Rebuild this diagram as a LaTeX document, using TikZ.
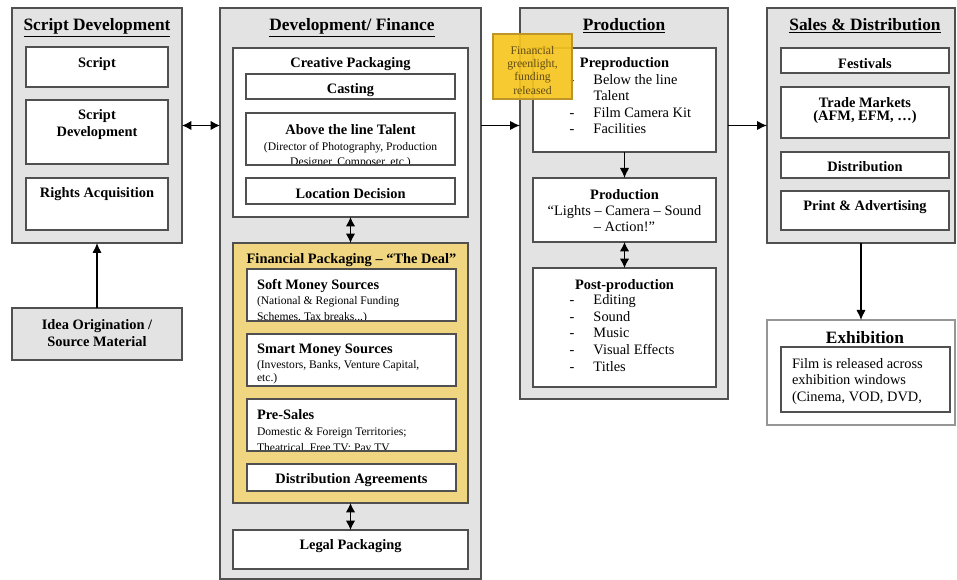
\documentclass[tikz,border=0pt]{standalone}
\usepackage{fontspec}
\setmainfont{Liberation Serif}
\usetikzlibrary{arrows.meta}
\definecolor{outerfill}{RGB}{227,227,227}
\definecolor{edge}{RGB}{80,80,80}
\definecolor{dealfill}{RGB}{240,214,128}
\definecolor{notefill}{RGB}{247,197,32}
\definecolor{noteedge}{RGB}{190,150,40}
\definecolor{notetext}{RGB}{95,75,20}
\definecolor{exedge}{RGB}{150,150,150}
\newcommand\fTitle{\fontsize{13}{15}\selectfont\bfseries}
\newcommand\fHead{\fontsize{10.8}{12.7}\selectfont\bfseries}
\newcommand\fBody{\fontsize{10.8}{12.4}\selectfont}
\newcommand\fSmall{\fontsize{8.7}{9.8}\selectfont}
\newcommand\fNote{\fontsize{8.8}{10}\selectfont}
\newcommand\rbox[6]{\node[#2, anchor=north west, minimum width={(#5-#3)*0.75pt}, minimum height={(#6-#4)*0.75pt}] (#1) at (#3,#4) {};}
\tikzset{
  outerbox/.style={draw=edge, line width=1.1pt, fill=outerfill, inner sep=0pt, outer sep=0pt},
  innerbox/.style={draw=edge, line width=1.1pt, fill=white, inner sep=0pt, outer sep=0pt},
  dealbox/.style={draw=edge, line width=1.1pt, fill=dealfill, inner sep=0pt, outer sep=0pt},
  exbox/.style={draw=exedge, line width=1pt, fill=white, inner sep=0pt, outer sep=0pt},
  notebox/.style={draw=noteedge, line width=0.9pt, fill=notefill, fill opacity=0.92, inner sep=0pt, outer sep=0pt},
  txt/.style={inner sep=0pt, outer sep=0pt, align=center, yshift=-1.5pt},
  ltxt/.style={inner sep=0pt, outer sep=0pt, align=left, anchor=west, yshift=-1.5pt},
  ttl/.style={inner sep=0pt, outer sep=0pt, anchor=base, font=\fTitle},
  lst/.style={inner sep=0pt, outer sep=0pt, anchor=west, yshift=-3pt},
  arr/.style={draw=black, line width=0.9pt, -{Latex[length=7.5pt,width=7pt]}},
  darr/.style={draw=black, line width=0.9pt, {Latex[length=7pt,width=7pt]}-{Latex[length=7pt,width=7pt]}},
}
\begin{document}
\begin{tikzpicture}[x=0.75pt,y=-0.75pt]
\useasboundingbox (0,0) rectangle (957,580);
% outer columns
\rbox{sd}{outerbox}{12}{8}{182}{243}
\rbox{df}{outerbox}{220}{8}{481}{579}
\rbox{pr}{outerbox}{520}{8}{728}{399}
\rbox{sa}{outerbox}{767}{8}{955}{243}
\rbox{idea}{outerbox}{12}{308}{182}{360}
\rbox{ex}{exbox}{767}{320}{955}{425}
% titles
\node[ttl] (sdT) at (97,30.5) {\underline{Script Development}};
\node[ttl] (dfT) at (352,30.5) {\underline{Development/ Finance}};
\node[ttl] (prT) at (624,30.5) {\underline{Production}};
\node[ttl] (saT) at (865,30.5) {\underline{Sales \& Distribution}};
% script development
\rbox{scr}{innerbox}{26}{47}{168}{87}
\rbox{scd}{innerbox}{26}{100}{168}{164}
\rbox{rig}{innerbox}{26}{178}{168}{230}
\node[txt, font=\fHead] (scrT) at (97,62) {Script};
\node[txt, font=\fHead] (scdT) at (97,122.5) {Script\\Development};
\node[txt, font=\fHead] (rigT) at (97,192) {Rights Acquisition};
\node[txt, font=\fHead] (ideaT) at (97,331) {Idea Origination /\\Source Material};
% development / finance
\rbox{cp}{innerbox}{233}{48}{468}{217}
\node[txt, font=\fHead] (cpT) at (350.5,62) {Creative Packaging};
\rbox{cas}{innerbox}{246}{74}{455}{99}
\node[txt, font=\fHead] (casT) at (350.5,88) {Casting};
\rbox{atl}{innerbox}{246}{113}{455}{165}
\begin{scope}
\clip (246,113) rectangle (455,164);
\node[txt, font=\fHead] (atlT) at (350.5,128) {Above the line Talent};
\node[txt, font={\fontsize{8.7}{11.25}\selectfont}] (atlS) at (350.5,153.5) {(Director of Photography, Production\\Designer, Composer, etc.)};
\end{scope}
\draw[edge, line width=1.1pt] (atl.north west) rectangle (atl.south east);
\rbox{loc}{innerbox}{246}{178}{455}{204}
\node[txt, font=\fHead] (locT) at (350.5,192) {Location Decision};
\rbox{fp}{dealbox}{233}{243}{468}{503}
\node[txt, font=\fHead] (fpT) at (351.5,258) {Financial Packaging – “The Deal”};
\rbox{soft}{innerbox}{247}{269}{456}{321}
\rbox{smart}{innerbox}{247}{334}{456}{386}
\rbox{pres}{innerbox}{247}{399}{456}{451}
\begin{scope}
\clip (247,269) rectangle (456,320);
\node[ltxt, font=\fHead] (softT) at (257,284) {Soft Money Sources};
\node[ltxt, font={\fontsize{8.7}{12}\selectfont}] (softS) at (257,308) {(National \& Regional Funding\\Schemes, Tax breaks...)};
\end{scope}
\draw[edge, line width=1.1pt] (soft.north west) rectangle (soft.south east);
\node[ltxt, font=\fHead] (smartT) at (257,348) {Smart Money Sources};
\node[ltxt, font=\fSmall] (smartS) at (257,370.5) {(Investors, Banks, Venture Capital,\\etc.)};
\begin{scope}
\clip (247,399) rectangle (456,450);
\node[ltxt, font=\fHead] (presT) at (257,413) {Pre-Sales};
\node[ltxt, font={\fontsize{8.7}{12}\selectfont}] (presS) at (257,439) {Domestic \& Foreign Territories;\\Theatrical, Free TV; Pay TV};
\end{scope}
\draw[edge, line width=1.1pt] (pres.north west) rectangle (pres.south east);
\rbox{dis}{innerbox}{247}{464}{456}{491}
\node[txt, font=\fHead] (disT) at (351.5,478) {Distribution Agreements};
\rbox{leg}{innerbox}{233}{530}{468}{569}
\node[txt, font=\fHead] (legT) at (350.5,544) {Legal Packaging};
% production
\rbox{pre}{innerbox}{533}{48}{716}{152}
\node[txt, font=\fHead] (preT) at (624.5,62) {Preproduction};
\node[lst, font=\fBody] (preL) at (569.5,101.5) {\begin{tabular}{@{}p{4pt}@{\hspace{14pt}}l@{}}-&Below the line\\&Talent\\-&Film Camera Kit\\-&Facilities\end{tabular}};
\rbox{prod}{innerbox}{533}{178}{716}{242}
\node[txt, font=\fHead] (prodT) at (624.5,193) {Production};
\node[txt, font={\fontsize{10.8}{11.6}\selectfont}] (prodS) at (624.5,216.5) {“Lights – Camera – Sound\\– Action!”};
\rbox{post}{innerbox}{533}{268}{716}{387}
\node[txt, font=\fHead] (postT) at (624.5,284) {Post-production};
\node[lst, font={\fontsize{10.8}{12.6}\selectfont}] (postL) at (569.5,330.5) {\begin{tabular}{@{}p{4pt}@{\hspace{14pt}}l@{}}-&Editing\\-&Sound\\-&Music\\-&Visual Effects\\-&Titles\end{tabular}};
% sales
\rbox{fes}{innerbox}{781}{48}{949}{73}
\node[txt, font=\fHead] (fesT) at (865,62) {Festivals};
\rbox{trd}{innerbox}{781}{87}{949}{138}
\node[txt, font={\fontsize{10.8}{10}\selectfont\bfseries}] (trdT) at (865,108.5) {Trade Markets\\(AFM, EFM, …)};
\rbox{dst}{innerbox}{781}{152}{949}{178}
\node[txt, font=\fHead] (dstT) at (865,165) {Distribution};
\rbox{pna}{innerbox}{781}{191}{949}{230}
\node[txt, font=\fHead] (pnaT) at (865,205) {Print \& Advertising};
% exhibition
\node[txt, font=\fTitle] (exT) at (865,335.5) {Exhibition};
\rbox{exi}{innerbox}{781}{347}{950}{412}
\node[ltxt, font=\fBody] (exS) at (792,379.5) {Film is released across\\exhibition windows\\(Cinema, VOD, DVD,};
% connectors
\draw[darr] (sd.east) -- (sd.east -| df.west);
\draw[arr] (df.east |- sd.east) -- (pr.west |- sd.east);
\draw[arr] (pr.east |- sa.west) -- (sa.west);
\draw[arr] (idea.north) -- (sd.south);
\draw[arr] (sa.south) -- (ex.north);
\draw[darr] (cp.south) -- (fp.north);
\draw[darr] (fp.south) -- (leg.north);
\draw[arr] (pre.south) -- (prod.north);
\draw[darr] (prod.south) -- (post.north);
% sticky note
\rbox{note}{notebox}{493}{34}{572}{99}
\node[txt, font=\fNote, text=notetext] (noteT) at (532.5,68) {Financial\\greenlight,\\funding\\released};
\end{tikzpicture}
\end{document}
